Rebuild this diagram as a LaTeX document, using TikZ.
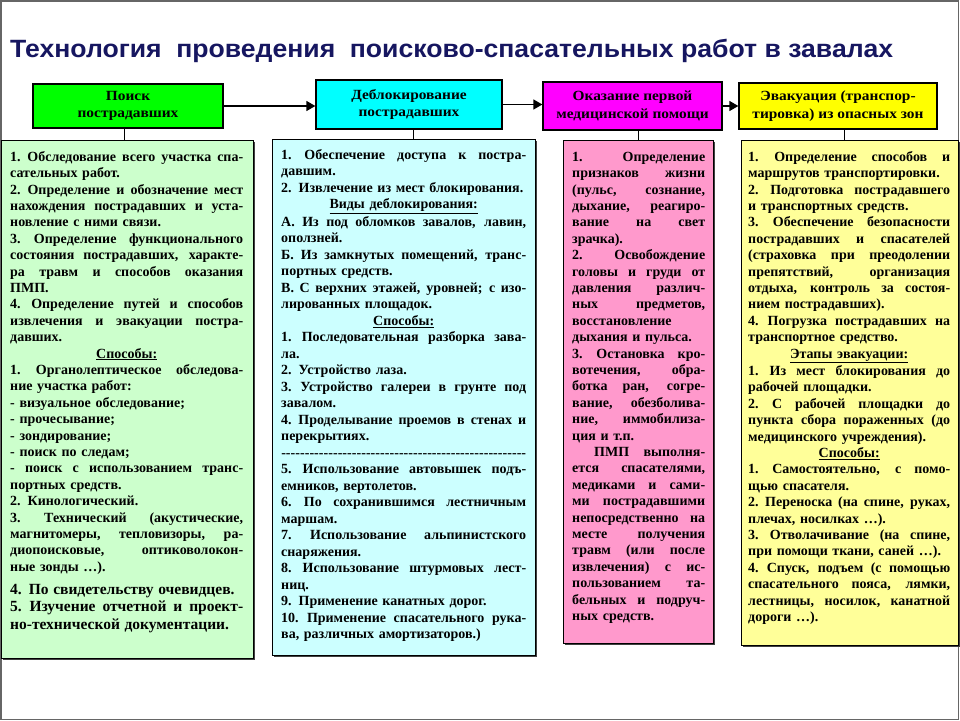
\documentclass[tikz,border=0pt]{standalone}
\usepackage{fontspec}
\usepackage{graphicx}
\setmainfont{Liberation Serif}
\newfontfamily\titlefont{Liberation Sans}
\usetikzlibrary{arrows.meta,shadows}
\definecolor{hgreen}{HTML}{00FF00}
\definecolor{hcyan}{HTML}{00FFFF}
\definecolor{hmag}{HTML}{FF00FF}
\definecolor{hyel}{HTML}{FFFF00}
\definecolor{cgreen}{HTML}{CCFFCC}
\definecolor{ccyan}{HTML}{CCFFFF}
\definecolor{cpink}{HTML}{FF99CC}
\definecolor{cyel}{HTML}{FFFF99}
\definecolor{titlecol}{RGB}{22,22,96}
\newcommand\lnJ[1]{\par\setbox0=\hbox{#1}\ifdim\wd0>\linewidth\hbox to\linewidth{\strut\resizebox{\linewidth}{\height}{\copy0}}\else\hbox to\linewidth{\spaceskip=0.25em plus 1fil\xspaceskip=0.3em plus 1fil\strut#1}\fi\par}
\newcommand\lnL[1]{\par\setbox0=\hbox{#1}\ifdim\wd0>\linewidth\hbox to\linewidth{\strut\resizebox{\linewidth}{\height}{\copy0}}\else\hbox to\linewidth{\strut#1\hfil}\fi\par}
\newcommand\lnC[1]{\par\hbox to\linewidth{\strut\hfil\underline{#1}\hfil}\par}
\newcommand\lnD{\par\hbox to\linewidth{\strut\xleaders\hbox{-}\hfill}\par}
\newcommand\hsc[1]{\scalebox{1.1}[1]{#1}}
\begin{document}
\begin{tikzpicture}[x=1pt,y=-1pt,
  hdr/.style={draw=black, line width=1.3pt, inner sep=0pt, align=center,
    font=\fontsize{14}{17.5}\selectfont\bfseries},
  colbox/.style={draw=black, line width=1pt, anchor=north west, inner sep=0pt,
    drop shadow={shadow xshift=1.5pt, shadow yshift=-1.5pt, fill=black!75, opacity=1}},
  coltext/.style={anchor=north west, inner sep=0pt,
    font=\fontsize{14}{16.4}\selectfont\bfseries},
  conn/.style={draw=black, line width=1pt},
  arr/.style={draw=black, line width=1.3pt, -{Triangle[length=9pt,width=10pt]}}]
\useasboundingbox (0,0) rectangle (960,720);
\fill[white] (0,0) rectangle (960,720);
\draw[black!60, line width=1.5pt] (0.75,0.75) rectangle (958.5,719.25);

% title
\node[anchor=base west, inner sep=0pt, text=titlecol] (title) at (10,57)
  {\resizebox{883pt}{\height}{\titlefont\bfseries\fontsize{25}{30}\selectfont
   Технология\hspace{0.55em}проведения\hspace{0.55em}поисково-спасательных работ в завалах}};

% header boxes
\node[hdr, fill=hgreen, minimum width=190pt, minimum height=44pt] (h1) at (128,106) {\hsc{Поиск}\\\hsc{пострадавших}};
\node[hdr, fill=hcyan, minimum width=186pt, minimum height=49pt] (h2) at (409,104.5) {\hsc{Деблокирование}\\\hsc{пострадавших}};
\node[hdr, fill=hmag, minimum width=179pt, minimum height=48pt] (h3) at (632.5,106) {\hsc{Оказание первой}\\\hsc{медицинской помощи}};
\node[hdr, fill=hyel, minimum width=198pt, minimum height=46pt] (h4) at (838,106) {\hsc{Эвакуация (транспор-}\\\hsc{тировка) из опасных зон}};

\draw[arr] (h1.east) -- (h1.east -| h2.west);
\draw[arr] (h2.east) -- (h2.east -| h3.west);
\draw[arr] (h3.east) -- (h3.east -| h4.west);

% column boxes
\node[colbox, fill=cgreen, minimum width=252pt, minimum height=518pt] (c1) at (1,140) {};
\node[colbox, fill=ccyan, minimum width=263pt, minimum height=516pt] (c2) at (272,139) {};
\node[colbox, fill=cpink, minimum width=150pt, minimum height=503pt] (c3) at (563,140) {};
\node[colbox, fill=cyel, minimum width=217pt, minimum height=505pt] (c4) at (741,140) {};

\draw[conn] ([xshift=-4pt]h1.south) -- ([xshift=-4pt]h1.south |- c1.north);
\draw[conn] ([xshift=4pt]h2.south) -- ([xshift=4pt]h2.south |- c2.north);
\draw[conn] ([xshift=6pt]h3.south) -- ([xshift=6pt]h3.south |- c3.north);
\draw[conn] ([xshift=6pt]h4.south) -- ([xshift=6pt]h4.south |- c4.north);

% column 1 text
\node[coltext, text width=233pt] (t1) at (10,144.6) {%
\lnJ{1. Обследование всего участка спа-}
\lnL{сательных работ.}
\lnJ{2. Определение и обозначение мест}
\lnJ{нахождения пострадавших и уста-}
\lnL{новление с ними связи.}
\lnJ{3. Определение функционального}
\lnJ{состояния пострадавших, характе-}
\lnJ{ра травм и способов оказания}
\lnL{ПМП.}
\lnJ{4. Определение путей и способов}
\lnJ{извлечения и эвакуации постра-}
\lnL{давших.}
\lnC{Способы:}
\lnJ{1. Органолептическое обследова-}
\lnL{ние участка работ:}
\lnL{- визуальное обследование;}
\lnL{- прочесывание;}
\lnL{- зондирование;}
\lnL{- поиск по следам;}
\lnJ{- поиск с использованием транс-}
\lnL{портных средств.}
\lnL{2. Кинологический.}
\lnJ{3. Технический (акустические,}
\lnJ{магнитомеры, тепловизоры, ра-}
\lnJ{диопоисковые, оптиковолокон-}
\lnL{ные зонды …).}
\vskip5.5pt
\fontsize{15.5}{17.5}\selectfont
\lnL{4. По свидетельству очевидцев.}
\lnJ{5. Изучение отчетной и проект-}
\lnL{но-технической документации.}};

% column 2 text
\node[coltext, text width=245pt, font=\fontsize{14}{16.5}\selectfont\bfseries] (t2) at (281,142.5) {%
\lnJ{1. Обеспечение доступа к постра-}
\lnL{давшим.}
\lnL{2. Извлечение из мест блокирования.}
\lnC{Виды деблокирования:}
\lnJ{А. Из под обломков завалов, лавин,}
\lnL{оползней.}
\lnJ{Б. Из замкнутых помещений, транс-}
\lnL{портных средств.}
\lnJ{В. С верхних этажей, уровней; с изо-}
\lnL{лированных площадок.}
\lnC{Способы:}
\lnJ{1. Последовательная разборка зава-}
\lnL{ла.}
\lnL{2. Устройство лаза.}
\lnJ{3. Устройство галереи в грунте под}
\lnL{завалом.}
\lnJ{4. Проделывание проемов в стенах и}
\lnL{перекрытиях.}
\lnD
\lnJ{5. Использование автовышек подъ-}
\lnL{емников, вертолетов.}
\lnJ{6. По сохранившимся лестничным}
\lnL{маршам.}
\lnJ{7. Использование альпинистского}
\lnL{снаряжения.}
\lnJ{8. Использование штурмовых лест-}
\lnL{ниц.}
\lnL{9. Применение канатных дорог.}
\lnJ{10. Применение спасательного рука-}
\lnL{ва, различных амортизаторов.)}};

% column 3 text
\node[coltext, text width=133pt] (t3) at (572,144.6) {%
\lnJ{1. Определение}
\lnJ{признаков жизни}
\lnJ{(пульс, сознание,}
\lnJ{дыхание, реагиро-}
\lnJ{вание на свет}
\lnL{зрачка).}
\lnJ{2. Освобождение}
\lnJ{головы и груди от}
\lnJ{давления различ-}
\lnJ{ных предметов,}
\lnL{восстановление}
\lnL{дыхания и пульса.}
\lnJ{3. Остановка кро-}
\lnJ{вотечения, обра-}
\lnJ{ботка ран, согре-}
\lnJ{вание, обезболива-}
\lnJ{ние, иммобилиза-}
\lnL{ция и т.п.}
\lnJ{\kern22pt ПМП выполня-}
\lnJ{ется спасателями,}
\lnJ{медиками и сами-}
\lnJ{ми пострадавшими}
\lnJ{непосредственно на}
\lnJ{месте получения}
\lnJ{травм (или после}
\lnJ{извлечения) с ис-}
\lnJ{пользованием та-}
\lnJ{бельных и подруч-}
\lnL{ных средств.}};

% column 4 text
\node[coltext, text width=202pt] (t4) at (748,144.6) {%
\lnJ{1. Определение способов и}
\lnL{маршрутов транспортировки.}
\lnJ{2. Подготовка пострадавшего}
\lnL{и транспортных средств.}
\lnJ{3. Обеспечение безопасности}
\lnJ{пострадавших и спасателей}
\lnJ{(страховка при преодолении}
\lnJ{препятствий, организация}
\lnJ{отдыха, контроль за состоя-}
\lnL{нием пострадавших).}
\lnJ{4. Погрузка пострадавших на}
\lnL{транспортное средство.}
\lnC{Этапы эвакуации:}
\lnJ{1. Из мест блокирования до}
\lnL{рабочей площадки.}
\lnJ{2. С рабочей площадки до}
\lnJ{пункта сбора пораженных (до}
\lnL{медицинского учреждения).}
\lnC{Способы:}
\lnJ{1. Самостоятельно, с помо-}
\lnL{щью спасателя.}
\lnJ{2. Переноска (на спине, руках,}
\lnL{плечах, носилках …).}
\lnJ{3. Отволачивание (на спине,}
\lnL{при помощи ткани, саней …).}
\lnJ{4. Спуск, подъем (с помощью}
\lnJ{спасательного пояса, лямки,}
\lnJ{лестницы, носилок, канатной}
\lnL{дороги …).}};
\end{tikzpicture}
\end{document}
